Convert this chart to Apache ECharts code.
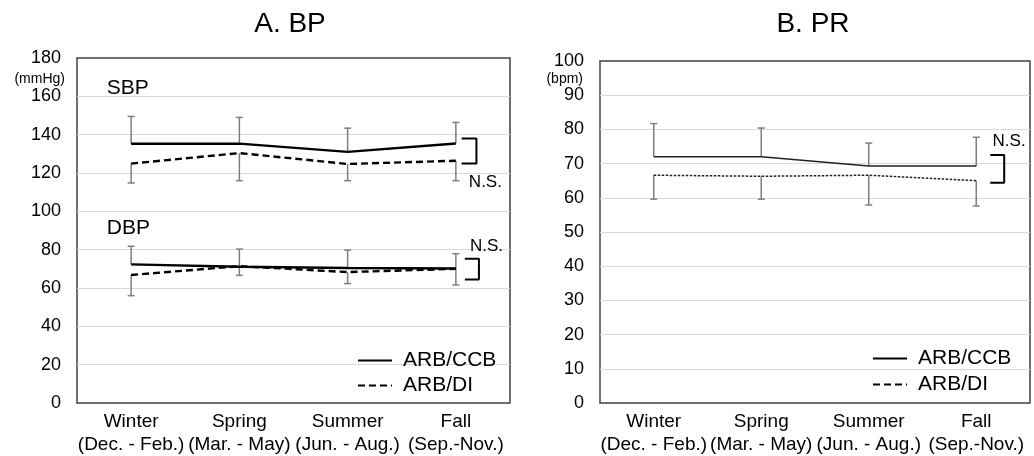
<!DOCTYPE html>
<html>
<head>
<meta charset="utf-8">
<script src="https://cdn.jsdelivr.net/npm/echarts@6/dist/echarts.min.js"></script>
<style>html,body{margin:0;padding:0;background:#fff}#c{width:1034px;height:456px}</style>
</head>
<body>
<div id="c"></div>
<script>
// ---- data ----
const categories = ['Winter\n(Dec. - Feb.)', 'Spring\n(Mar. - May)', 'Summer\n(Jun. - Aug.)', 'Fall\n(Sep.-Nov.)'];
const bpTicks = [0, 20, 40, 60, 80, 100, 120, 140, 160, 180];
const prTicks = [0, 10, 20, 30, 40, 50, 60, 70, 80, 90, 100];

const sbpCCB = [135.3, 135.3, 131.0, 135.4];
const sbpCCBUpper = [149.5, 149.0, 143.4, 146.4];
const sbpDI = [124.9, 130.4, 124.7, 126.4];
const sbpDILower = [114.8, 116.0, 116.0, 116.0];

const dbpCCB = [72.3, 71.1, 70.4, 70.2];
const dbpCCBUpper = [81.8, 80.3, 79.8, 77.9];
const dbpDI = [66.8, 71.4, 68.3, 70.0];
const dbpDILower = [56.0, 66.6, 62.3, 61.6];

const prCCB = [72.0, 72.0, 69.3, 69.3];
const prCCBUpper = [81.7, 80.4, 76.0, 77.7];
const prDI = [66.6, 66.3, 66.6, 65.0];
const prDILower = [59.6, 59.6, 57.9, 57.6];

// significance brackets (top, bottom values)
const sbpBracket = [138.0, 125.0];
const dbpBracket = [75.3, 64.5];
const prBracket = [72.5, 64.4];

// ---- helpers ----
const FONT = '"Liberation Sans", Arial, sans-serif';
const pts = arr => arr.map((v, i) => [i, v]);
const errData = (mean, end) => mean.map((v, i) => [i, v, end[i]]);

function errSeries(data, gi) {
  return {
    type: 'custom', xAxisIndex: gi, yAxisIndex: gi, z: 1, silent: true,
    encode: { x: 0, y: [1, 2] },
    data: data,
    renderItem: function (params, api) {
      const x = api.value(0), m = api.value(1), e = api.value(2);
      const p1 = api.coord([x, m]), p2 = api.coord([x, e]);
      const hw = 3.5;
      const st = { stroke: '#7f7f7f', lineWidth: 1.5 };
      return { type: 'group', children: [
        { type: 'line', shape: { x1: p1[0], y1: p1[1], x2: p2[0], y2: p2[1] }, style: st },
        { type: 'line', shape: { x1: p2[0] - hw, y1: p2[1], x2: p2[0] + hw, y2: p2[1] }, style: st }
      ]};
    }
  };
}

function lineSeries(name, arr, gi, lineStyle) {
  return {
    name: name, type: 'line', xAxisIndex: gi, yAxisIndex: gi, z: 3,
    symbol: 'none', data: pts(arr), lineStyle: lineStyle, itemStyle: { color: lineStyle.color },
    silent: true, animation: false
  };
}

function bracketSeries(br, x0, x1, gi) {
  return {
    type: 'line', xAxisIndex: gi, yAxisIndex: gi, z: 3, symbol: 'none', silent: true,
    data: [[x0, br[0]], [x1, br[0]], [x1, br[1]], [x0, br[1]]],
    lineStyle: { color: '#000', width: 2 }
  };
}

function textSeries(items, gi) {
  return {
    type: 'custom', xAxisIndex: gi, yAxisIndex: gi, z: 4, silent: true,
    encode: { x: 0, y: 1 },
    data: items.map(t => [t[0], t[1]]),
    renderItem: function (params, api) {
      const it = items[params.dataIndex];
      const p = api.coord([api.value(0), api.value(1)]);
      return { type: 'text', x: p[0], y: p[1],
        style: { text: it[2], font: it[3] + 'px ' + FONT, fill: '#000', align: 'left', verticalAlign: 'middle' } };
    }
  };
}

function xAxisCfg(gi) {
  return {
    gridIndex: gi, type: 'value', min: -0.5, max: 3.5, interval: 0.5,
    axisLine: { show: false }, axisTick: { show: false }, splitLine: { show: false },
    axisLabel: {
      margin: 7, color: '#000', fontSize: 19, lineHeight: 23, fontFamily: FONT,
      formatter: v => (Number.isInteger(v) && v >= 0 && v < categories.length) ? categories[v] : '',
      showMinLabel: true, showMaxLabel: true
    }
  };
}

function yAxisCfg(gi, ticks) {
  return {
    gridIndex: gi, type: 'value', min: ticks[0], max: ticks[ticks.length - 1],
    interval: ticks[1] - ticks[0],
    axisLine: { show: false }, axisTick: { show: false },
    splitLine: { show: true, showMinLine: false, showMaxLine: false, lineStyle: { color: '#d9d9d9', width: 1.2 } },
    axisLabel: { margin: 16, color: '#000', fontSize: 18, fontFamily: FONT }
  };
}

const solidBold = { color: '#000', width: 2.4, type: 'solid' };
const dashBold = { color: '#000', width: 2.4, type: [7, 4] };
const solidThin = { color: '#222', width: 1.5, type: 'solid' };
const dotThin = { color: '#222', width: 1.5, type: [2.5, 1.5] };

const legendCommon = {
  data: ['ARB/CCB', 'ARB/DI'], orient: 'vertical', itemWidth: 34, itemHeight: 21,
  selectedMode: false, itemStyle: { opacity: 0, borderWidth: 0 },
  textStyle: { fontSize: 21, color: '#000', fontFamily: FONT, padding: [0, 0, 0, 6] }
};

const chart = echarts.init(document.getElementById('c'), null, { renderer: 'canvas' });
chart.setOption({
  animation: false,
  backgroundColor: '#fff',
  textStyle: { fontFamily: FONT },
  grid: [
    { left: 77, right: 524, top: 58, bottom: 52, show: true, borderColor: '#404040', borderWidth: 1.5, backgroundColor: 'transparent' },
    { left: 600, right: 4, top: 61, bottom: 51, show: true, borderColor: '#404040', borderWidth: 1.5, backgroundColor: 'transparent' }
  ],
  xAxis: [xAxisCfg(0), xAxisCfg(1)],
  yAxis: [yAxisCfg(0, bpTicks), yAxisCfg(1, prTicks)],
  legend: [
    Object.assign({}, legendCommon, { left: 352, top: 345, itemGap: 4 }),
    Object.assign({}, legendCommon, { left: 867, top: 343, itemGap: 5 })
  ],
  graphic: [
    { type: 'text', x: 290, y: 24, style: { text: 'A. BP', font: '28px ' + FONT, fill: '#000', align: 'center', verticalAlign: 'middle' } },
    { type: 'text', x: 813, y: 24, style: { text: 'B. PR', font: '28px ' + FONT, fill: '#000', align: 'center', verticalAlign: 'middle' } },
    { type: 'text', x: 65, y: 79, style: { text: '(mmHg)', font: '14px ' + FONT, fill: '#000', align: 'right', verticalAlign: 'middle' } },
    { type: 'text', x: 583, y: 79, style: { text: '(bpm)', font: '14px ' + FONT, fill: '#000', align: 'right', verticalAlign: 'middle' } }
  ],
  series: [
    errSeries(errData(sbpCCB, sbpCCBUpper), 0),
    errSeries(errData(sbpDI, sbpDILower), 0),
    errSeries(errData(dbpCCB, dbpCCBUpper), 0),
    errSeries(errData(dbpDI, dbpDILower), 0),
    errSeries(errData(prCCB, prCCBUpper), 1),
    errSeries(errData(prDI, prDILower), 1),
    lineSeries('ARB/CCB', sbpCCB, 0, solidBold),
    lineSeries('ARB/DI', sbpDI, 0, dashBold),
    lineSeries('ARB/CCB', dbpCCB, 0, solidBold),
    lineSeries('ARB/DI', dbpDI, 0, dashBold),
    lineSeries('ARB/CCB', prCCB, 1, solidThin),
    lineSeries('ARB/DI', prDI, 1, dotThin),
    bracketSeries(sbpBracket, 3.053, 3.19, 0),
    bracketSeries(dbpBracket, 3.083, 3.213, 0),
    bracketSeries(prBracket, 3.13, 3.26, 1),
    textSeries([[-0.225, 164.3, 'SBP', 21], [-0.225, 91, 'DBP', 21], [3.12, 115, 'N.S.', 17], [3.13, 81.7, 'N.S.', 17]], 0),
    textSeries([[3.152, 76.5, 'N.S.', 17]], 1)
  ]
});
</script>
</body>
</html>
